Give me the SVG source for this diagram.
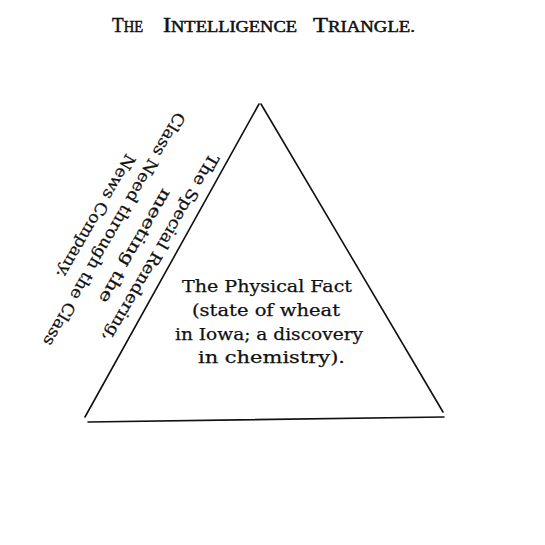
<svg xmlns="http://www.w3.org/2000/svg" width="545" height="545" viewBox="0 0 545 545">
<style>
.bg{fill:#fff}
.edge{stroke:#111;stroke-width:1.6;fill:none;stroke-linecap:round}
.title{font-family:"Liberation Serif","Times New Roman",serif;fill:#111;stroke:#111;stroke-width:0.5}
.big{font-size:21px}
.sc{font-size:16px}
.body{font-family:"DejaVu Serif","Liberation Serif",serif;font-size:17px;fill:#111;stroke:#111;stroke-width:0.25}
.side{font-family:"DejaVu Serif","Liberation Serif",serif;font-size:16px;fill:#111;stroke:#111;stroke-width:0.25}
</style>
<rect class="bg" width="545" height="545"/>
<g id="title" class="title">
<text x="112" y="32" textLength="31" lengthAdjust="spacingAndGlyphs"><tspan class="big">T</tspan><tspan class="sc">HE</tspan></text>
<text x="163" y="32" textLength="134" lengthAdjust="spacingAndGlyphs"><tspan class="big">I</tspan><tspan class="sc">NTELLIGENCE</tspan></text>
<text x="313" y="32" textLength="102" lengthAdjust="spacingAndGlyphs"><tspan class="big">T</tspan><tspan class="sc">RIANGLE.</tspan></text>
</g>
<g id="connectors">
<line class="edge" x1="85" y1="417" x2="259" y2="104"/>
<line class="edge" x1="261" y1="104" x2="443" y2="412"/>
<line class="edge" x1="88" y1="422" x2="444" y2="417"/>
</g>
<g id="physical-fact" class="body">
<text x="182" y="292" textLength="170" lengthAdjust="spacingAndGlyphs">The Physical Fact</text>
<text x="192" y="316" textLength="148" lengthAdjust="spacingAndGlyphs">(state of wheat</text>
<text x="175" y="340" textLength="188" lengthAdjust="spacingAndGlyphs">in Iowa; a discovery</text>
<text x="198" y="363" textLength="147" lengthAdjust="spacingAndGlyphs">in chemistry).</text>
</g>
<g id="special-rendering" class="side" transform="rotate(120)">
<text x="27" y="-258" textLength="215" lengthAdjust="spacingAndGlyphs">The Special Rendering,</text>
<text x="81" y="-235" textLength="129" lengthAdjust="spacingAndGlyphs">meeting the</text>
<text x="8" y="-208" textLength="267" lengthAdjust="spacingAndGlyphs">Class Need through the Class</text>
<text x="69" y="-186" textLength="141" lengthAdjust="spacingAndGlyphs">News Company.</text>
</g>
</svg>
